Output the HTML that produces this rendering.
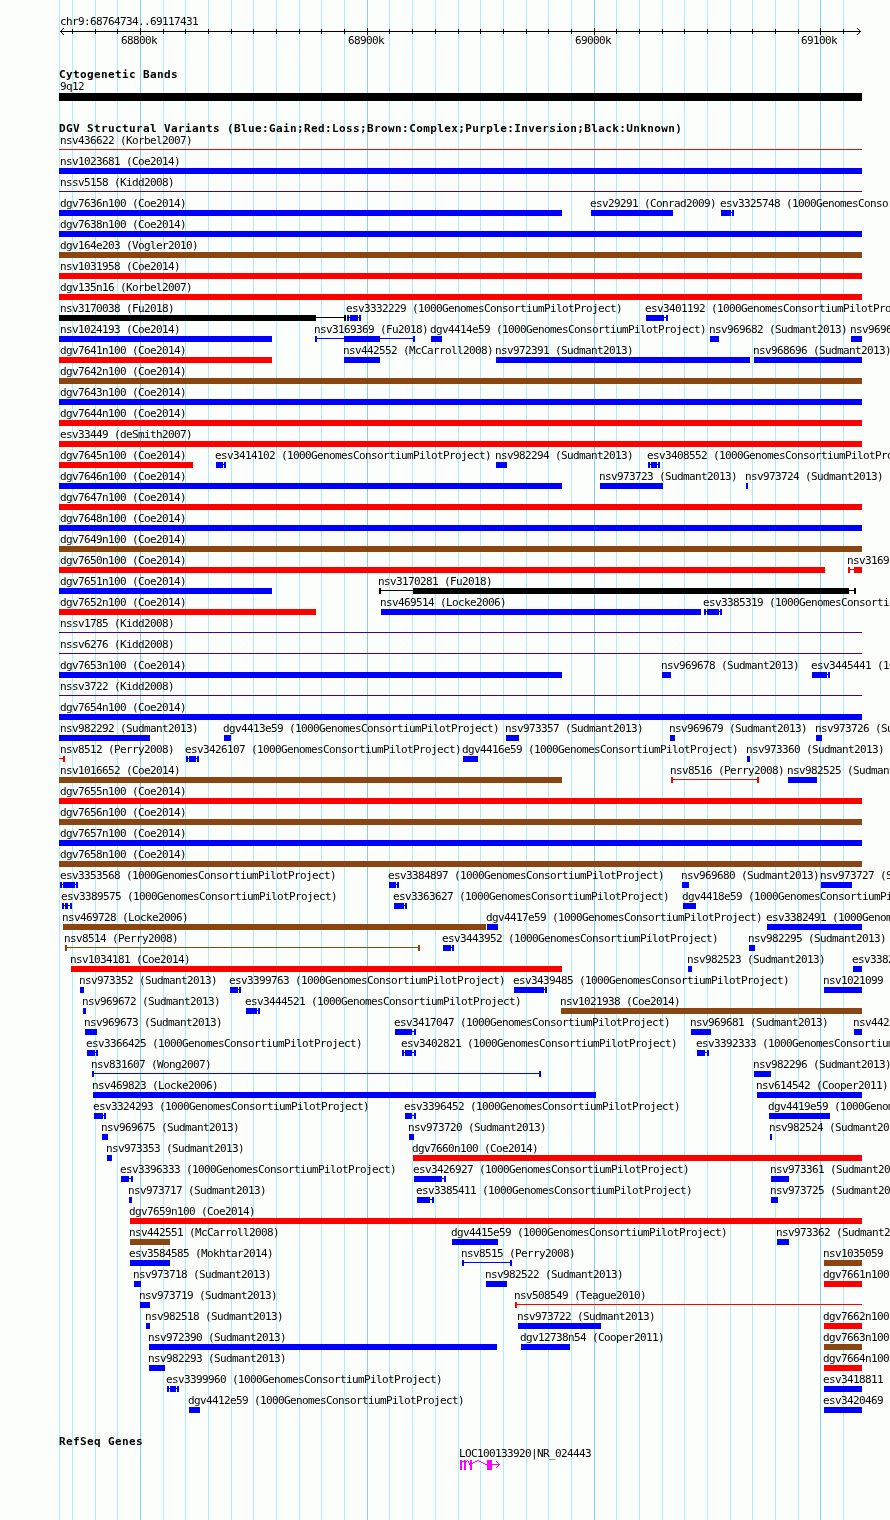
<!DOCTYPE html><html><head><meta charset="utf-8"><title>GBrowse</title><style>
html,body{margin:0;padding:0}body{width:890px;height:1520px;overflow:hidden;position:relative;background:#fcfefc}
div{position:absolute}
.g{top:0;width:1px;height:1520px}
.s{font-family:"DejaVu Sans Mono","Liberation Mono",monospace;font-size:11px;letter-spacing:-0.62px;line-height:13px;white-space:pre;color:#000}
.b{font-family:"DejaVu Sans Mono","Liberation Mono",monospace;font-weight:bold;font-size:11px;letter-spacing:0.38px;line-height:13px;white-space:pre;color:#000}
</style></head><body>
<div class="g" style="left:59px;background:#afeeee"></div>
<div class="g" style="left:72px;background:#afeeee"></div>
<div class="g" style="left:95px;background:#afeeee"></div>
<div class="g" style="left:117px;background:#afeeee"></div>
<div class="g" style="left:140px;background:#87ceeb"></div>
<div class="g" style="left:163px;background:#afeeee"></div>
<div class="g" style="left:185px;background:#afeeee"></div>
<div class="g" style="left:208px;background:#afeeee"></div>
<div class="g" style="left:231px;background:#afeeee"></div>
<div class="g" style="left:253px;background:#afeeee"></div>
<div class="g" style="left:276px;background:#afeeee"></div>
<div class="g" style="left:299px;background:#afeeee"></div>
<div class="g" style="left:321px;background:#afeeee"></div>
<div class="g" style="left:344px;background:#afeeee"></div>
<div class="g" style="left:367px;background:#87ceeb"></div>
<div class="g" style="left:389px;background:#afeeee"></div>
<div class="g" style="left:412px;background:#afeeee"></div>
<div class="g" style="left:435px;background:#afeeee"></div>
<div class="g" style="left:458px;background:#afeeee"></div>
<div class="g" style="left:480px;background:#afeeee"></div>
<div class="g" style="left:503px;background:#afeeee"></div>
<div class="g" style="left:526px;background:#afeeee"></div>
<div class="g" style="left:548px;background:#afeeee"></div>
<div class="g" style="left:571px;background:#afeeee"></div>
<div class="g" style="left:594px;background:#87ceeb"></div>
<div class="g" style="left:616px;background:#afeeee"></div>
<div class="g" style="left:639px;background:#afeeee"></div>
<div class="g" style="left:662px;background:#afeeee"></div>
<div class="g" style="left:684px;background:#afeeee"></div>
<div class="g" style="left:707px;background:#afeeee"></div>
<div class="g" style="left:730px;background:#afeeee"></div>
<div class="g" style="left:752px;background:#afeeee"></div>
<div class="g" style="left:775px;background:#afeeee"></div>
<div class="g" style="left:798px;background:#afeeee"></div>
<div class="g" style="left:820px;background:#87ceeb"></div>
<div class="g" style="left:843px;background:#afeeee"></div>
<div style="left:59px;top:149px;width:803px;height:1px;background:#ff0000"></div>
<div style="left:59px;top:168px;width:803px;height:6px;background:#0000ff"></div>
<div style="left:59px;top:191px;width:803px;height:1px;background:#4b0082"></div>
<div style="left:59px;top:210px;width:503px;height:6px;background:#0000ff"></div>
<div style="left:591px;top:210px;width:82px;height:6px;background:#0000ff"></div>
<div style="left:721px;top:210px;width:10px;height:6px;background:#0000ff"></div>
<div style="left:731px;top:212px;width:3px;height:1px;background:#0000ff"></div>
<div style="left:732px;top:210px;width:2px;height:6px;background:#0000ff"></div>
<div style="left:59px;top:231px;width:803px;height:6px;background:#0000ff"></div>
<div style="left:59px;top:252px;width:803px;height:6px;background:#8b4513"></div>
<div style="left:59px;top:273px;width:803px;height:6px;background:#ff0000"></div>
<div style="left:59px;top:294px;width:803px;height:6px;background:#ff0000"></div>
<div style="left:59px;top:315px;width:257px;height:6px;background:#000000"></div>
<div style="left:316px;top:317px;width:30px;height:1px;background:#000000"></div>
<div style="left:344px;top:315px;width:2px;height:6px;background:#000000"></div>
<div style="left:347px;top:315px;width:2px;height:6px;background:#0000ff"></div>
<div style="left:347px;top:317px;width:3px;height:1px;background:#0000ff"></div>
<div style="left:350px;top:315px;width:8px;height:6px;background:#0000ff"></div>
<div style="left:358px;top:317px;width:3px;height:1px;background:#0000ff"></div>
<div style="left:359px;top:315px;width:2px;height:6px;background:#0000ff"></div>
<div style="left:646px;top:315px;width:18px;height:6px;background:#0000ff"></div>
<div style="left:664px;top:317px;width:4px;height:1px;background:#0000ff"></div>
<div style="left:666px;top:315px;width:2px;height:6px;background:#0000ff"></div>
<div style="left:59px;top:336px;width:213px;height:6px;background:#0000ff"></div>
<div style="left:315px;top:336px;width:2px;height:6px;background:#0000ff"></div>
<div style="left:315px;top:338px;width:29px;height:1px;background:#0000ff"></div>
<div style="left:344px;top:336px;width:36px;height:6px;background:#0000ff"></div>
<div style="left:380px;top:338px;width:35px;height:1px;background:#0000ff"></div>
<div style="left:413px;top:336px;width:2px;height:6px;background:#0000ff"></div>
<div style="left:431px;top:336px;width:11px;height:6px;background:#0000ff"></div>
<div style="left:710px;top:336px;width:9px;height:6px;background:#0000ff"></div>
<div style="left:851px;top:336px;width:11px;height:6px;background:#0000ff"></div>
<div style="left:59px;top:357px;width:213px;height:6px;background:#ff0000"></div>
<div style="left:344px;top:357px;width:36px;height:6px;background:#0000ff"></div>
<div style="left:496px;top:357px;width:254px;height:6px;background:#0000ff"></div>
<div style="left:754px;top:357px;width:108px;height:6px;background:#0000ff"></div>
<div style="left:59px;top:378px;width:803px;height:6px;background:#8b4513"></div>
<div style="left:59px;top:399px;width:803px;height:6px;background:#0000ff"></div>
<div style="left:59px;top:420px;width:803px;height:6px;background:#ff0000"></div>
<div style="left:59px;top:441px;width:803px;height:6px;background:#ff0000"></div>
<div style="left:59px;top:462px;width:134px;height:6px;background:#ff0000"></div>
<div style="left:216px;top:462px;width:7px;height:6px;background:#0000ff"></div>
<div style="left:223px;top:464px;width:3px;height:1px;background:#0000ff"></div>
<div style="left:224px;top:462px;width:2px;height:6px;background:#0000ff"></div>
<div style="left:496px;top:462px;width:11px;height:6px;background:#0000ff"></div>
<div style="left:648px;top:462px;width:2px;height:6px;background:#0000ff"></div>
<div style="left:648px;top:464px;width:3px;height:1px;background:#0000ff"></div>
<div style="left:651px;top:462px;width:6px;height:6px;background:#0000ff"></div>
<div style="left:657px;top:464px;width:3px;height:1px;background:#0000ff"></div>
<div style="left:658px;top:462px;width:2px;height:6px;background:#0000ff"></div>
<div style="left:59px;top:483px;width:503px;height:6px;background:#0000ff"></div>
<div style="left:600px;top:483px;width:63px;height:6px;background:#0000ff"></div>
<div style="left:746px;top:483px;width:2px;height:6px;background:#0000ff"></div>
<div style="left:59px;top:504px;width:803px;height:6px;background:#ff0000"></div>
<div style="left:59px;top:525px;width:803px;height:6px;background:#0000ff"></div>
<div style="left:59px;top:546px;width:803px;height:6px;background:#8b4513"></div>
<div style="left:59px;top:567px;width:766px;height:6px;background:#ff0000"></div>
<div style="left:848px;top:567px;width:2px;height:6px;background:#ff0000"></div>
<div style="left:848px;top:569px;width:6px;height:1px;background:#ff0000"></div>
<div style="left:854px;top:567px;width:8px;height:6px;background:#ff0000"></div>
<div style="left:59px;top:588px;width:213px;height:6px;background:#0000ff"></div>
<div style="left:379px;top:588px;width:2px;height:6px;background:#000000"></div>
<div style="left:379px;top:590px;width:34px;height:1px;background:#000000"></div>
<div style="left:413px;top:588px;width:436px;height:6px;background:#000000"></div>
<div style="left:849px;top:590px;width:7px;height:1px;background:#000000"></div>
<div style="left:854px;top:588px;width:2px;height:6px;background:#000000"></div>
<div style="left:59px;top:609px;width:257px;height:6px;background:#ff0000"></div>
<div style="left:381px;top:609px;width:320px;height:6px;background:#0000ff"></div>
<div style="left:704px;top:609px;width:2px;height:6px;background:#0000ff"></div>
<div style="left:704px;top:611px;width:3px;height:1px;background:#0000ff"></div>
<div style="left:707px;top:609px;width:12px;height:6px;background:#0000ff"></div>
<div style="left:719px;top:611px;width:3px;height:1px;background:#0000ff"></div>
<div style="left:720px;top:609px;width:2px;height:6px;background:#0000ff"></div>
<div style="left:59px;top:632px;width:803px;height:1px;background:#4b0082"></div>
<div style="left:59px;top:653px;width:803px;height:1px;background:#4b0082"></div>
<div style="left:59px;top:672px;width:503px;height:6px;background:#0000ff"></div>
<div style="left:662px;top:672px;width:9px;height:6px;background:#0000ff"></div>
<div style="left:812px;top:672px;width:15px;height:6px;background:#0000ff"></div>
<div style="left:827px;top:674px;width:3px;height:1px;background:#0000ff"></div>
<div style="left:828px;top:672px;width:2px;height:6px;background:#0000ff"></div>
<div style="left:59px;top:695px;width:803px;height:1px;background:#4b0082"></div>
<div style="left:59px;top:714px;width:803px;height:6px;background:#0000ff"></div>
<div style="left:59px;top:735px;width:91px;height:6px;background:#0000ff"></div>
<div style="left:224px;top:735px;width:7px;height:6px;background:#0000ff"></div>
<div style="left:506px;top:735px;width:13px;height:6px;background:#0000ff"></div>
<div style="left:670px;top:735px;width:5px;height:6px;background:#0000ff"></div>
<div style="left:816px;top:735px;width:6px;height:6px;background:#0000ff"></div>
<div style="left:59px;top:758px;width:4px;height:1px;background:#ff0000"></div>
<div style="left:63px;top:756px;width:2px;height:6px;background:#ff0000"></div>
<div style="left:186px;top:756px;width:2px;height:6px;background:#0000ff"></div>
<div style="left:186px;top:758px;width:3px;height:1px;background:#0000ff"></div>
<div style="left:189px;top:756px;width:7px;height:6px;background:#0000ff"></div>
<div style="left:196px;top:758px;width:3px;height:1px;background:#0000ff"></div>
<div style="left:197px;top:756px;width:2px;height:6px;background:#0000ff"></div>
<div style="left:463px;top:756px;width:15px;height:6px;background:#0000ff"></div>
<div style="left:747px;top:756px;width:3px;height:6px;background:#0000ff"></div>
<div style="left:59px;top:777px;width:503px;height:6px;background:#8b4513"></div>
<div style="left:671px;top:777px;width:2px;height:6px;background:#ff0000"></div>
<div style="left:671px;top:779px;width:88px;height:1px;background:#ff0000"></div>
<div style="left:757px;top:777px;width:2px;height:6px;background:#ff0000"></div>
<div style="left:788px;top:777px;width:29px;height:6px;background:#0000ff"></div>
<div style="left:59px;top:798px;width:803px;height:6px;background:#ff0000"></div>
<div style="left:59px;top:819px;width:803px;height:6px;background:#8b4513"></div>
<div style="left:59px;top:840px;width:803px;height:6px;background:#0000ff"></div>
<div style="left:59px;top:861px;width:803px;height:6px;background:#8b4513"></div>
<div style="left:60px;top:882px;width:2px;height:6px;background:#0000ff"></div>
<div style="left:60px;top:884px;width:3px;height:1px;background:#0000ff"></div>
<div style="left:63px;top:882px;width:12px;height:6px;background:#0000ff"></div>
<div style="left:75px;top:884px;width:3px;height:1px;background:#0000ff"></div>
<div style="left:76px;top:882px;width:2px;height:6px;background:#0000ff"></div>
<div style="left:389px;top:882px;width:7px;height:6px;background:#0000ff"></div>
<div style="left:396px;top:884px;width:3px;height:1px;background:#0000ff"></div>
<div style="left:397px;top:882px;width:2px;height:6px;background:#0000ff"></div>
<div style="left:682px;top:882px;width:7px;height:6px;background:#0000ff"></div>
<div style="left:821px;top:882px;width:31px;height:6px;background:#0000ff"></div>
<div style="left:62px;top:903px;width:2px;height:6px;background:#0000ff"></div>
<div style="left:62px;top:905px;width:3px;height:1px;background:#0000ff"></div>
<div style="left:65px;top:903px;width:3px;height:6px;background:#0000ff"></div>
<div style="left:68px;top:905px;width:4px;height:1px;background:#0000ff"></div>
<div style="left:70px;top:903px;width:2px;height:6px;background:#0000ff"></div>
<div style="left:394px;top:903px;width:10px;height:6px;background:#0000ff"></div>
<div style="left:404px;top:905px;width:3px;height:1px;background:#0000ff"></div>
<div style="left:405px;top:903px;width:2px;height:6px;background:#0000ff"></div>
<div style="left:683px;top:903px;width:13px;height:6px;background:#0000ff"></div>
<div style="left:63px;top:924px;width:423px;height:6px;background:#8b4513"></div>
<div style="left:487px;top:924px;width:11px;height:6px;background:#0000ff"></div>
<div style="left:767px;top:924px;width:95px;height:6px;background:#0000ff"></div>
<div style="left:65px;top:945px;width:2px;height:6px;background:#8b4513"></div>
<div style="left:65px;top:947px;width:355px;height:1px;background:#8b4513"></div>
<div style="left:418px;top:945px;width:2px;height:6px;background:#8b4513"></div>
<div style="left:443px;top:945px;width:8px;height:6px;background:#0000ff"></div>
<div style="left:451px;top:947px;width:3px;height:1px;background:#0000ff"></div>
<div style="left:452px;top:945px;width:2px;height:6px;background:#0000ff"></div>
<div style="left:749px;top:945px;width:6px;height:6px;background:#0000ff"></div>
<div style="left:71px;top:966px;width:491px;height:6px;background:#ff0000"></div>
<div style="left:688px;top:966px;width:4px;height:6px;background:#0000ff"></div>
<div style="left:853px;top:966px;width:9px;height:6px;background:#0000ff"></div>
<div style="left:80px;top:987px;width:4px;height:6px;background:#0000ff"></div>
<div style="left:230px;top:987px;width:8px;height:6px;background:#0000ff"></div>
<div style="left:238px;top:989px;width:3px;height:1px;background:#0000ff"></div>
<div style="left:239px;top:987px;width:2px;height:6px;background:#0000ff"></div>
<div style="left:514px;top:987px;width:30px;height:6px;background:#0000ff"></div>
<div style="left:544px;top:989px;width:3px;height:1px;background:#0000ff"></div>
<div style="left:545px;top:987px;width:2px;height:6px;background:#0000ff"></div>
<div style="left:824px;top:987px;width:38px;height:6px;background:#0000ff"></div>
<div style="left:83px;top:1008px;width:3px;height:6px;background:#0000ff"></div>
<div style="left:246px;top:1008px;width:11px;height:6px;background:#0000ff"></div>
<div style="left:257px;top:1010px;width:3px;height:1px;background:#0000ff"></div>
<div style="left:258px;top:1008px;width:2px;height:6px;background:#0000ff"></div>
<div style="left:561px;top:1008px;width:301px;height:6px;background:#8b4513"></div>
<div style="left:85px;top:1029px;width:12px;height:6px;background:#0000ff"></div>
<div style="left:395px;top:1029px;width:17px;height:6px;background:#0000ff"></div>
<div style="left:412px;top:1031px;width:4px;height:1px;background:#0000ff"></div>
<div style="left:414px;top:1029px;width:2px;height:6px;background:#0000ff"></div>
<div style="left:691px;top:1029px;width:20px;height:6px;background:#0000ff"></div>
<div style="left:854px;top:1029px;width:8px;height:6px;background:#0000ff"></div>
<div style="left:87px;top:1050px;width:8px;height:6px;background:#0000ff"></div>
<div style="left:95px;top:1052px;width:3px;height:1px;background:#0000ff"></div>
<div style="left:96px;top:1050px;width:2px;height:6px;background:#0000ff"></div>
<div style="left:402px;top:1050px;width:2px;height:6px;background:#0000ff"></div>
<div style="left:402px;top:1052px;width:3px;height:1px;background:#0000ff"></div>
<div style="left:405px;top:1050px;width:7px;height:6px;background:#0000ff"></div>
<div style="left:412px;top:1052px;width:4px;height:1px;background:#0000ff"></div>
<div style="left:414px;top:1050px;width:2px;height:6px;background:#0000ff"></div>
<div style="left:697px;top:1050px;width:8px;height:6px;background:#0000ff"></div>
<div style="left:705px;top:1052px;width:4px;height:1px;background:#0000ff"></div>
<div style="left:707px;top:1050px;width:2px;height:6px;background:#0000ff"></div>
<div style="left:92px;top:1071px;width:2px;height:6px;background:#0000ff"></div>
<div style="left:92px;top:1073px;width:449px;height:1px;background:#0000ff"></div>
<div style="left:539px;top:1071px;width:2px;height:6px;background:#0000ff"></div>
<div style="left:754px;top:1071px;width:17px;height:6px;background:#0000ff"></div>
<div style="left:93px;top:1092px;width:503px;height:6px;background:#0000ff"></div>
<div style="left:757px;top:1092px;width:105px;height:6px;background:#0000ff"></div>
<div style="left:94px;top:1113px;width:9px;height:6px;background:#0000ff"></div>
<div style="left:103px;top:1115px;width:3px;height:1px;background:#0000ff"></div>
<div style="left:104px;top:1113px;width:2px;height:6px;background:#0000ff"></div>
<div style="left:405px;top:1113px;width:7px;height:6px;background:#0000ff"></div>
<div style="left:412px;top:1115px;width:4px;height:1px;background:#0000ff"></div>
<div style="left:414px;top:1113px;width:2px;height:6px;background:#0000ff"></div>
<div style="left:769px;top:1113px;width:61px;height:6px;background:#0000ff"></div>
<div style="left:102px;top:1134px;width:6px;height:6px;background:#0000ff"></div>
<div style="left:409px;top:1134px;width:5px;height:6px;background:#0000ff"></div>
<div style="left:770px;top:1134px;width:2px;height:6px;background:#0000ff"></div>
<div style="left:107px;top:1155px;width:5px;height:6px;background:#0000ff"></div>
<div style="left:413px;top:1155px;width:449px;height:6px;background:#ff0000"></div>
<div style="left:121px;top:1176px;width:8px;height:6px;background:#0000ff"></div>
<div style="left:129px;top:1178px;width:4px;height:1px;background:#0000ff"></div>
<div style="left:131px;top:1176px;width:2px;height:6px;background:#0000ff"></div>
<div style="left:414px;top:1176px;width:28px;height:6px;background:#0000ff"></div>
<div style="left:442px;top:1178px;width:4px;height:1px;background:#0000ff"></div>
<div style="left:444px;top:1176px;width:2px;height:6px;background:#0000ff"></div>
<div style="left:771px;top:1176px;width:18px;height:6px;background:#0000ff"></div>
<div style="left:129px;top:1197px;width:3px;height:6px;background:#0000ff"></div>
<div style="left:417px;top:1197px;width:13px;height:6px;background:#0000ff"></div>
<div style="left:430px;top:1199px;width:4px;height:1px;background:#0000ff"></div>
<div style="left:432px;top:1197px;width:2px;height:6px;background:#0000ff"></div>
<div style="left:771px;top:1197px;width:7px;height:6px;background:#0000ff"></div>
<div style="left:130px;top:1218px;width:732px;height:6px;background:#ff0000"></div>
<div style="left:130px;top:1239px;width:40px;height:6px;background:#8b4513"></div>
<div style="left:452px;top:1239px;width:46px;height:6px;background:#0000ff"></div>
<div style="left:777px;top:1239px;width:12px;height:6px;background:#0000ff"></div>
<div style="left:130px;top:1260px;width:40px;height:6px;background:#0000ff"></div>
<div style="left:462px;top:1260px;width:2px;height:6px;background:#0000ff"></div>
<div style="left:462px;top:1262px;width:50px;height:1px;background:#0000ff"></div>
<div style="left:510px;top:1260px;width:2px;height:6px;background:#0000ff"></div>
<div style="left:824px;top:1260px;width:38px;height:6px;background:#8b4513"></div>
<div style="left:134px;top:1281px;width:7px;height:6px;background:#0000ff"></div>
<div style="left:486px;top:1281px;width:21px;height:6px;background:#0000ff"></div>
<div style="left:824px;top:1281px;width:38px;height:6px;background:#ff0000"></div>
<div style="left:140px;top:1302px;width:10px;height:6px;background:#0000ff"></div>
<div style="left:515px;top:1302px;width:2px;height:6px;background:#ff0000"></div>
<div style="left:515px;top:1304px;width:347px;height:1px;background:#ff0000"></div>
<div style="left:146px;top:1323px;width:4px;height:6px;background:#0000ff"></div>
<div style="left:518px;top:1323px;width:83px;height:6px;background:#0000ff"></div>
<div style="left:824px;top:1323px;width:38px;height:6px;background:#ff0000"></div>
<div style="left:149px;top:1344px;width:348px;height:6px;background:#0000ff"></div>
<div style="left:521px;top:1344px;width:49px;height:6px;background:#0000ff"></div>
<div style="left:824px;top:1344px;width:38px;height:6px;background:#8b4513"></div>
<div style="left:149px;top:1365px;width:16px;height:6px;background:#0000ff"></div>
<div style="left:824px;top:1365px;width:38px;height:6px;background:#ff0000"></div>
<div style="left:167px;top:1386px;width:2px;height:6px;background:#0000ff"></div>
<div style="left:167px;top:1388px;width:3px;height:1px;background:#0000ff"></div>
<div style="left:170px;top:1386px;width:6px;height:6px;background:#0000ff"></div>
<div style="left:176px;top:1388px;width:3px;height:1px;background:#0000ff"></div>
<div style="left:177px;top:1386px;width:2px;height:6px;background:#0000ff"></div>
<div style="left:824px;top:1386px;width:38px;height:6px;background:#0000ff"></div>
<div style="left:189px;top:1407px;width:11px;height:6px;background:#0000ff"></div>
<div style="left:824px;top:1407px;width:38px;height:6px;background:#0000ff"></div>
<div style="left:60px;top:31px;width:801px;height:1px;background:#000000"></div>
<div style="left:61px;top:30px;width:1px;height:1px;background:#000000"></div>
<div style="left:61px;top:32px;width:1px;height:1px;background:#000000"></div>
<div style="left:859px;top:30px;width:1px;height:1px;background:#000000"></div>
<div style="left:859px;top:32px;width:1px;height:1px;background:#000000"></div>
<div style="left:62px;top:29px;width:1px;height:1px;background:#000000"></div>
<div style="left:62px;top:33px;width:1px;height:1px;background:#000000"></div>
<div style="left:858px;top:29px;width:1px;height:1px;background:#000000"></div>
<div style="left:858px;top:33px;width:1px;height:1px;background:#000000"></div>
<div style="left:63px;top:28px;width:1px;height:1px;background:#000000"></div>
<div style="left:63px;top:34px;width:1px;height:1px;background:#000000"></div>
<div style="left:857px;top:28px;width:1px;height:1px;background:#000000"></div>
<div style="left:857px;top:34px;width:1px;height:1px;background:#000000"></div>
<div style="left:72px;top:29px;width:1px;height:5px;background:#000000"></div>
<div style="left:95px;top:29px;width:1px;height:5px;background:#000000"></div>
<div style="left:117px;top:29px;width:1px;height:5px;background:#000000"></div>
<div style="left:140px;top:28px;width:1px;height:7px;background:#000000"></div>
<div style="left:163px;top:29px;width:1px;height:5px;background:#000000"></div>
<div style="left:185px;top:29px;width:1px;height:5px;background:#000000"></div>
<div style="left:208px;top:29px;width:1px;height:5px;background:#000000"></div>
<div style="left:231px;top:29px;width:1px;height:5px;background:#000000"></div>
<div style="left:253px;top:29px;width:1px;height:5px;background:#000000"></div>
<div style="left:276px;top:29px;width:1px;height:5px;background:#000000"></div>
<div style="left:299px;top:29px;width:1px;height:5px;background:#000000"></div>
<div style="left:321px;top:29px;width:1px;height:5px;background:#000000"></div>
<div style="left:344px;top:29px;width:1px;height:5px;background:#000000"></div>
<div style="left:367px;top:28px;width:1px;height:7px;background:#000000"></div>
<div style="left:389px;top:29px;width:1px;height:5px;background:#000000"></div>
<div style="left:412px;top:29px;width:1px;height:5px;background:#000000"></div>
<div style="left:435px;top:29px;width:1px;height:5px;background:#000000"></div>
<div style="left:458px;top:29px;width:1px;height:5px;background:#000000"></div>
<div style="left:480px;top:29px;width:1px;height:5px;background:#000000"></div>
<div style="left:503px;top:29px;width:1px;height:5px;background:#000000"></div>
<div style="left:526px;top:29px;width:1px;height:5px;background:#000000"></div>
<div style="left:548px;top:29px;width:1px;height:5px;background:#000000"></div>
<div style="left:571px;top:29px;width:1px;height:5px;background:#000000"></div>
<div style="left:594px;top:28px;width:1px;height:7px;background:#000000"></div>
<div style="left:616px;top:29px;width:1px;height:5px;background:#000000"></div>
<div style="left:639px;top:29px;width:1px;height:5px;background:#000000"></div>
<div style="left:662px;top:29px;width:1px;height:5px;background:#000000"></div>
<div style="left:684px;top:29px;width:1px;height:5px;background:#000000"></div>
<div style="left:707px;top:29px;width:1px;height:5px;background:#000000"></div>
<div style="left:730px;top:29px;width:1px;height:5px;background:#000000"></div>
<div style="left:752px;top:29px;width:1px;height:5px;background:#000000"></div>
<div style="left:775px;top:29px;width:1px;height:5px;background:#000000"></div>
<div style="left:798px;top:29px;width:1px;height:5px;background:#000000"></div>
<div style="left:820px;top:28px;width:1px;height:7px;background:#000000"></div>
<div style="left:843px;top:29px;width:1px;height:5px;background:#000000"></div>
<div style="left:59px;top:93px;width:803px;height:8px;background:#000000"></div>
<div style="left:460px;top:1460px;width:2px;height:10px;background:#ff00ff"></div>
<div style="left:462px;top:1461px;width:2px;height:1px;background:#ff00ff"></div>
<div style="left:464px;top:1460px;width:2px;height:10px;background:#ff00ff"></div>
<div style="left:466px;top:1461px;width:1px;height:1px;background:#ff00ff"></div>
<div style="left:467px;top:1460px;width:1px;height:1px;background:#ff00ff"></div>
<div style="left:468px;top:1461px;width:1px;height:2px;background:#ff00ff"></div>
<div style="left:469px;top:1463px;width:1px;height:2px;background:#ff00ff"></div>
<div style="left:470px;top:1460px;width:2px;height:10px;background:#ff00ff"></div>
<div style="left:472px;top:1463px;width:1px;height:1px;background:#ff00ff"></div>
<div style="left:473px;top:1462px;width:2px;height:1px;background:#ff00ff"></div>
<div style="left:475px;top:1461px;width:2px;height:1px;background:#ff00ff"></div>
<div style="left:477px;top:1460px;width:2px;height:1px;background:#ff00ff"></div>
<div style="left:479px;top:1461px;width:2px;height:1px;background:#ff00ff"></div>
<div style="left:481px;top:1462px;width:2px;height:1px;background:#ff00ff"></div>
<div style="left:483px;top:1463px;width:2px;height:1px;background:#ff00ff"></div>
<div style="left:485px;top:1464px;width:2px;height:1px;background:#ff00ff"></div>
<div style="left:487px;top:1460px;width:5px;height:10px;background:#ff00ff"></div>
<div style="left:492px;top:1464px;width:8px;height:1px;background:#ff00ff"></div>
<div style="left:496px;top:1461px;width:1px;height:1px;background:#ff00ff"></div>
<div style="left:497px;top:1462px;width:1px;height:1px;background:#ff00ff"></div>
<div style="left:498px;top:1463px;width:1px;height:1px;background:#ff00ff"></div>
<div style="left:498px;top:1465px;width:1px;height:1px;background:#ff00ff"></div>
<div style="left:497px;top:1466px;width:1px;height:1px;background:#ff00ff"></div>
<div style="left:496px;top:1467px;width:1px;height:1px;background:#ff00ff"></div>
<div id="tx" style="left:0;top:0;width:890px;height:1520px;overflow:hidden;will-change:transform">
<div class="s" style="left:60px;top:134px">nsv436622 (Korbel2007)</div>
<div class="s" style="left:60px;top:155px">nsv1023681 (Coe2014)</div>
<div class="s" style="left:60px;top:176px">nssv5158 (Kidd2008)</div>
<div class="s" style="left:60px;top:197px">dgv7636n100 (Coe2014)</div>
<div class="s" style="left:590px;top:197px">esv29291 (Conrad2009)</div>
<div class="s" style="left:720px;top:197px">esv3325748 (1000GenomesConsortiumPilotProject)</div>
<div class="s" style="left:60px;top:218px">dgv7638n100 (Coe2014)</div>
<div class="s" style="left:60px;top:239px">dgv164e203 (Vogler2010)</div>
<div class="s" style="left:60px;top:260px">nsv1031958 (Coe2014)</div>
<div class="s" style="left:60px;top:281px">dgv135n16 (Korbel2007)</div>
<div class="s" style="left:60px;top:302px">nsv3170038 (Fu2018)</div>
<div class="s" style="left:346px;top:302px">esv3332229 (1000GenomesConsortiumPilotProject)</div>
<div class="s" style="left:645px;top:302px">esv3401192 (1000GenomesConsortiumPilotProject)</div>
<div class="s" style="left:60px;top:323px">nsv1024193 (Coe2014)</div>
<div class="s" style="left:314px;top:323px">nsv3169369 (Fu2018)</div>
<div class="s" style="left:430px;top:323px">dgv4414e59 (1000GenomesConsortiumPilotProject)</div>
<div class="s" style="left:709px;top:323px">nsv969682 (Sudmant2013)</div>
<div class="s" style="left:850px;top:323px">nsv969691 (Sudmant2013)</div>
<div class="s" style="left:60px;top:344px">dgv7641n100 (Coe2014)</div>
<div class="s" style="left:343px;top:344px">nsv442552 (McCarroll2008)</div>
<div class="s" style="left:495px;top:344px">nsv972391 (Sudmant2013)</div>
<div class="s" style="left:753px;top:344px">nsv968696 (Sudmant2013)</div>
<div class="s" style="left:60px;top:365px">dgv7642n100 (Coe2014)</div>
<div class="s" style="left:60px;top:386px">dgv7643n100 (Coe2014)</div>
<div class="s" style="left:60px;top:407px">dgv7644n100 (Coe2014)</div>
<div class="s" style="left:60px;top:428px">esv33449 (deSmith2007)</div>
<div class="s" style="left:60px;top:449px">dgv7645n100 (Coe2014)</div>
<div class="s" style="left:215px;top:449px">esv3414102 (1000GenomesConsortiumPilotProject)</div>
<div class="s" style="left:495px;top:449px">nsv982294 (Sudmant2013)</div>
<div class="s" style="left:647px;top:449px">esv3408552 (1000GenomesConsortiumPilotProject)</div>
<div class="s" style="left:60px;top:470px">dgv7646n100 (Coe2014)</div>
<div class="s" style="left:599px;top:470px">nsv973723 (Sudmant2013)</div>
<div class="s" style="left:745px;top:470px">nsv973724 (Sudmant2013)</div>
<div class="s" style="left:60px;top:491px">dgv7647n100 (Coe2014)</div>
<div class="s" style="left:60px;top:512px">dgv7648n100 (Coe2014)</div>
<div class="s" style="left:60px;top:533px">dgv7649n100 (Coe2014)</div>
<div class="s" style="left:60px;top:554px">dgv7650n100 (Coe2014)</div>
<div class="s" style="left:847px;top:554px">nsv3169375 (Fu2018)</div>
<div class="s" style="left:60px;top:575px">dgv7651n100 (Coe2014)</div>
<div class="s" style="left:378px;top:575px">nsv3170281 (Fu2018)</div>
<div class="s" style="left:60px;top:596px">dgv7652n100 (Coe2014)</div>
<div class="s" style="left:380px;top:596px">nsv469514 (Locke2006)</div>
<div class="s" style="left:703px;top:596px">esv3385319 (1000GenomesConsortiumPilotProject)</div>
<div class="s" style="left:60px;top:617px">nssv1785 (Kidd2008)</div>
<div class="s" style="left:60px;top:638px">nssv6276 (Kidd2008)</div>
<div class="s" style="left:60px;top:659px">dgv7653n100 (Coe2014)</div>
<div class="s" style="left:661px;top:659px">nsv969678 (Sudmant2013)</div>
<div class="s" style="left:811px;top:659px">esv3445441 (1000GenomesConsortiumPilotProject)</div>
<div class="s" style="left:60px;top:680px">nssv3722 (Kidd2008)</div>
<div class="s" style="left:60px;top:701px">dgv7654n100 (Coe2014)</div>
<div class="s" style="left:60px;top:722px">nsv982292 (Sudmant2013)</div>
<div class="s" style="left:223px;top:722px">dgv4413e59 (1000GenomesConsortiumPilotProject)</div>
<div class="s" style="left:505px;top:722px">nsv973357 (Sudmant2013)</div>
<div class="s" style="left:669px;top:722px">nsv969679 (Sudmant2013)</div>
<div class="s" style="left:815px;top:722px">nsv973726 (Sudmant2013)</div>
<div class="s" style="left:60px;top:743px">nsv8512 (Perry2008)</div>
<div class="s" style="left:185px;top:743px">esv3426107 (1000GenomesConsortiumPilotProject)</div>
<div class="s" style="left:462px;top:743px">dgv4416e59 (1000GenomesConsortiumPilotProject)</div>
<div class="s" style="left:746px;top:743px">nsv973360 (Sudmant2013)</div>
<div class="s" style="left:60px;top:764px">nsv1016652 (Coe2014)</div>
<div class="s" style="left:670px;top:764px">nsv8516 (Perry2008)</div>
<div class="s" style="left:787px;top:764px">nsv982525 (Sudmant2013)</div>
<div class="s" style="left:60px;top:785px">dgv7655n100 (Coe2014)</div>
<div class="s" style="left:60px;top:806px">dgv7656n100 (Coe2014)</div>
<div class="s" style="left:60px;top:827px">dgv7657n100 (Coe2014)</div>
<div class="s" style="left:60px;top:848px">dgv7658n100 (Coe2014)</div>
<div class="s" style="left:60px;top:869px">esv3353568 (1000GenomesConsortiumPilotProject)</div>
<div class="s" style="left:388px;top:869px">esv3384897 (1000GenomesConsortiumPilotProject)</div>
<div class="s" style="left:681px;top:869px">nsv969680 (Sudmant2013)</div>
<div class="s" style="left:820px;top:869px">nsv973727 (Sudmant2013)</div>
<div class="s" style="left:61px;top:890px">esv3389575 (1000GenomesConsortiumPilotProject)</div>
<div class="s" style="left:393px;top:890px">esv3363627 (1000GenomesConsortiumPilotProject)</div>
<div class="s" style="left:682px;top:890px">dgv4418e59 (1000GenomesConsortiumPilotProject)</div>
<div class="s" style="left:62px;top:911px">nsv469728 (Locke2006)</div>
<div class="s" style="left:486px;top:911px">dgv4417e59 (1000GenomesConsortiumPilotProject)</div>
<div class="s" style="left:766px;top:911px">esv3382491 (1000GenomesConsortiumPilotProject)</div>
<div class="s" style="left:64px;top:932px">nsv8514 (Perry2008)</div>
<div class="s" style="left:442px;top:932px">esv3443952 (1000GenomesConsortiumPilotProject)</div>
<div class="s" style="left:748px;top:932px">nsv982295 (Sudmant2013)</div>
<div class="s" style="left:70px;top:953px">nsv1034181 (Coe2014)</div>
<div class="s" style="left:687px;top:953px">nsv982523 (Sudmant2013)</div>
<div class="s" style="left:852px;top:953px">esv3382817 (1000GenomesConsortiumPilotProject)</div>
<div class="s" style="left:79px;top:974px">nsv973352 (Sudmant2013)</div>
<div class="s" style="left:229px;top:974px">esv3399763 (1000GenomesConsortiumPilotProject)</div>
<div class="s" style="left:513px;top:974px">esv3439485 (1000GenomesConsortiumPilotProject)</div>
<div class="s" style="left:823px;top:974px">nsv1021099 (Coe2014)</div>
<div class="s" style="left:82px;top:995px">nsv969672 (Sudmant2013)</div>
<div class="s" style="left:245px;top:995px">esv3444521 (1000GenomesConsortiumPilotProject)</div>
<div class="s" style="left:560px;top:995px">nsv1021938 (Coe2014)</div>
<div class="s" style="left:84px;top:1016px">nsv969673 (Sudmant2013)</div>
<div class="s" style="left:394px;top:1016px">esv3417047 (1000GenomesConsortiumPilotProject)</div>
<div class="s" style="left:690px;top:1016px">nsv969681 (Sudmant2013)</div>
<div class="s" style="left:853px;top:1016px">nsv442553 (McCarroll2008)</div>
<div class="s" style="left:86px;top:1037px">esv3366425 (1000GenomesConsortiumPilotProject)</div>
<div class="s" style="left:401px;top:1037px">esv3402821 (1000GenomesConsortiumPilotProject)</div>
<div class="s" style="left:696px;top:1037px">esv3392333 (1000GenomesConsortiumPilotProject)</div>
<div class="s" style="left:91px;top:1058px">nsv831607 (Wong2007)</div>
<div class="s" style="left:753px;top:1058px">nsv982296 (Sudmant2013)</div>
<div class="s" style="left:92px;top:1079px">nsv469823 (Locke2006)</div>
<div class="s" style="left:756px;top:1079px">nsv614542 (Cooper2011)</div>
<div class="s" style="left:93px;top:1100px">esv3324293 (1000GenomesConsortiumPilotProject)</div>
<div class="s" style="left:404px;top:1100px">esv3396452 (1000GenomesConsortiumPilotProject)</div>
<div class="s" style="left:768px;top:1100px">dgv4419e59 (1000GenomesConsortiumPilotProject)</div>
<div class="s" style="left:101px;top:1121px">nsv969675 (Sudmant2013)</div>
<div class="s" style="left:408px;top:1121px">nsv973720 (Sudmant2013)</div>
<div class="s" style="left:769px;top:1121px">nsv982524 (Sudmant2013)</div>
<div class="s" style="left:106px;top:1142px">nsv973353 (Sudmant2013)</div>
<div class="s" style="left:412px;top:1142px">dgv7660n100 (Coe2014)</div>
<div class="s" style="left:120px;top:1163px">esv3396333 (1000GenomesConsortiumPilotProject)</div>
<div class="s" style="left:413px;top:1163px">esv3426927 (1000GenomesConsortiumPilotProject)</div>
<div class="s" style="left:770px;top:1163px">nsv973361 (Sudmant2013)</div>
<div class="s" style="left:128px;top:1184px">nsv973717 (Sudmant2013)</div>
<div class="s" style="left:416px;top:1184px">esv3385411 (1000GenomesConsortiumPilotProject)</div>
<div class="s" style="left:770px;top:1184px">nsv973725 (Sudmant2013)</div>
<div class="s" style="left:129px;top:1205px">dgv7659n100 (Coe2014)</div>
<div class="s" style="left:129px;top:1226px">nsv442551 (McCarroll2008)</div>
<div class="s" style="left:451px;top:1226px">dgv4415e59 (1000GenomesConsortiumPilotProject)</div>
<div class="s" style="left:776px;top:1226px">nsv973362 (Sudmant2013)</div>
<div class="s" style="left:129px;top:1247px">esv3584585 (Mokhtar2014)</div>
<div class="s" style="left:461px;top:1247px">nsv8515 (Perry2008)</div>
<div class="s" style="left:823px;top:1247px">nsv1035059 (Coe2014)</div>
<div class="s" style="left:133px;top:1268px">nsv973718 (Sudmant2013)</div>
<div class="s" style="left:485px;top:1268px">nsv982522 (Sudmant2013)</div>
<div class="s" style="left:823px;top:1268px">dgv7661n100 (Coe2014)</div>
<div class="s" style="left:139px;top:1289px">nsv973719 (Sudmant2013)</div>
<div class="s" style="left:514px;top:1289px">nsv508549 (Teague2010)</div>
<div class="s" style="left:145px;top:1310px">nsv982518 (Sudmant2013)</div>
<div class="s" style="left:517px;top:1310px">nsv973722 (Sudmant2013)</div>
<div class="s" style="left:823px;top:1310px">dgv7662n100 (Coe2014)</div>
<div class="s" style="left:148px;top:1331px">nsv972390 (Sudmant2013)</div>
<div class="s" style="left:520px;top:1331px">dgv12738n54 (Cooper2011)</div>
<div class="s" style="left:823px;top:1331px">dgv7663n100 (Coe2014)</div>
<div class="s" style="left:148px;top:1352px">nsv982293 (Sudmant2013)</div>
<div class="s" style="left:823px;top:1352px">dgv7664n100 (Coe2014)</div>
<div class="s" style="left:166px;top:1373px">esv3399960 (1000GenomesConsortiumPilotProject)</div>
<div class="s" style="left:823px;top:1373px">esv3418811 (1000GenomesConsortiumPilotProject)</div>
<div class="s" style="left:188px;top:1394px">dgv4412e59 (1000GenomesConsortiumPilotProject)</div>
<div class="s" style="left:823px;top:1394px">esv3420469 (1000GenomesConsortiumPilotProject)</div>
<div class="s" style="left:121px;top:34px">68800k</div>
<div class="s" style="left:348px;top:34px">68900k</div>
<div class="s" style="left:575px;top:34px">69000k</div>
<div class="s" style="left:801px;top:34px">69100k</div>
<div class="s" style="left:60px;top:15px">chr9:68764734..69117431</div>
<div class="b" style="left:59px;top:68px">Cytogenetic Bands</div>
<div class="s" style="left:60px;top:80px">9q12</div>
<div class="b" style="left:59px;top:122px">DGV Structural Variants (Blue:Gain;Red:Loss;Brown:Complex;Purple:Inversion;Black:Unknown)</div>
<div class="b" style="left:59px;top:1435px">RefSeq Genes</div>
<div class="s" style="left:459px;top:1447px">LOC100133920|NR_024443</div>
</div>
</body></html>
